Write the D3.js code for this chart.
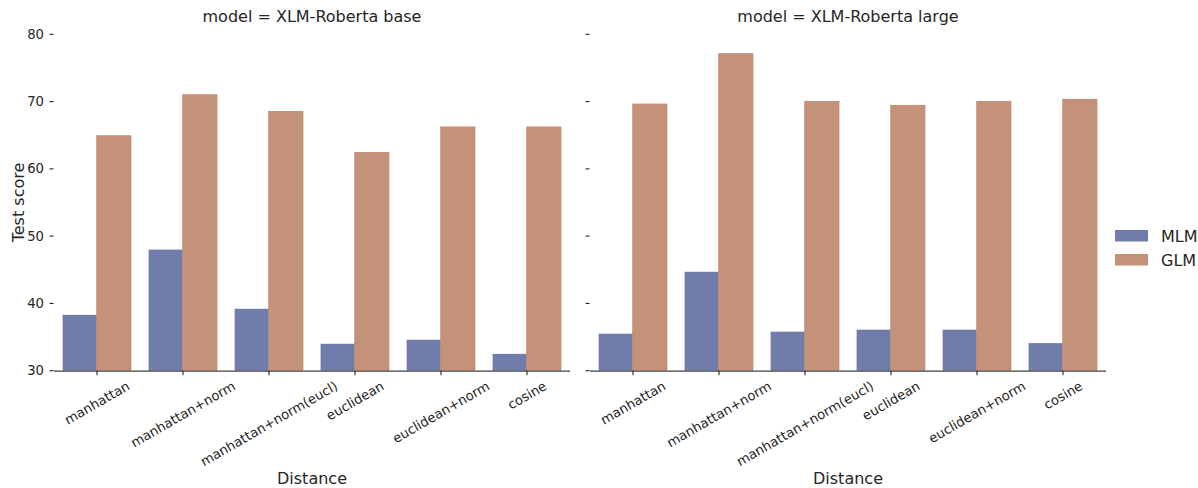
<!DOCTYPE html>
<html>
<head>
<meta charset="utf-8">
<script src="https://cdn.jsdelivr.net/npm/d3@7"></script>
<style>
  body { margin: 0; background: #fff; }
  text { font-family: "DejaVu Sans", sans-serif; fill: #262626; }
</style>
</head>
<body>
<svg id="chart" width="1198" height="488"></svg>
<script>
const categories = ["manhattan", "manhattan+norm", "manhattan+norm(eucl)", "euclidean", "euclidean+norm", "cosine"];
const series = ["MLM", "GLM"];
const models = ["XLM-Roberta base", "XLM-Roberta large"];
const baseMLM = [38.3, 48.0, 39.2, 34.0, 34.6, 32.5];
const baseGLM = [65.0, 71.1, 68.6, 62.5, 66.3, 66.3];
const largeMLM = [35.5, 44.7, 35.8, 36.1, 36.1, 34.1];
const largeGLM = [69.7, 77.2, 70.1, 69.5, 70.1, 70.4];
const yTicks = [30, 40, 50, 60, 70, 80];
const colors = ["#707ca9", "#c49179"];

const panelData = [
  { model: models[0], values: [baseMLM, baseGLM] },
  { model: models[1], values: [largeMLM, largeGLM] }
];

const svg = d3.select("#chart");
const plotTop = 34.3, plotBottom = 370.7;
const panelX = [[54, 570], [590, 1106]];
const y = d3.scaleLinear().domain([30, 80]).range([plotBottom, plotTop]);
const ink = "#262626";

panelData.forEach((p, pi) => {
  const [x0, x1] = panelX[pi];
  const x = d3.scaleBand().domain(categories).range([x0, x1]).padding(0);
  const step = x.bandwidth();
  const inner = d3.scaleBand().domain(series).range([0.1 * step, 0.9 * step]).padding(0);
  const g = svg.append("g");

  // bars
  series.forEach((s, si) => {
    g.selectAll(null).data(categories).enter().append("rect")
      .attr("x", c => x(c) + inner(s) - (si === 1 ? 0.8 : 0))
      .attr("y", (c, i) => y(p.values[si][i]))
      .attr("width", inner.bandwidth() + (si === 1 ? 0.8 : 0))
      .attr("height", (c, i) => plotBottom - y(p.values[si][i]))
      .attr("fill", colors[si]);
  });

  // bottom spine
  g.append("line").attr("x1", x0).attr("x2", x1).attr("y1", plotBottom + 0.5).attr("y2", plotBottom + 0.5)
    .attr("stroke", "#404040").attr("stroke-width", 1.25);

  // x ticks
  categories.forEach(c => {
    const cx = x(c) + step / 2;
    g.append("line").attr("x1", cx).attr("x2", cx).attr("y1", plotBottom).attr("y2", plotBottom + 4.5)
      .attr("stroke", ink).attr("stroke-width", 1.1);
    const t = g.append("text").text(c).attr("font-size", 13.2)
      .attr("text-anchor", "middle").attr("dy", "0.35em");
    const L = t.node().getComputedTextLength();
    const H = L * 0.5 + 15 * 0.866;
    t.attr("transform", `translate(${cx},${plotBottom + 7.5 + H / 2}) rotate(-30)`);
  });

  // y ticks
  yTicks.forEach(v => {
    g.append("line").attr("x1", x0 - 4.5).attr("x2", x0 - 0.5).attr("y1", y(v)).attr("y2", y(v))
      .attr("stroke", ink).attr("stroke-width", 1.1);
    if (pi === 0) {
      g.append("text").text(v).attr("font-size", 13.2).attr("text-anchor", "end")
        .attr("x", x0 - 10).attr("y", y(v)).attr("dy", "0.35em");
    }
  });

  // title
  g.append("text").text("model = " + p.model).attr("font-size", 16).attr("text-anchor", "middle")
    .attr("x", (x0 + x1) / 2).attr("y", 22);

  // x label
  g.append("text").text("Distance").attr("font-size", 16).attr("text-anchor", "middle")
    .attr("x", (x0 + x1) / 2).attr("y", 484);
});

// y label
svg.append("text").text("Test score").attr("font-size", 16).attr("text-anchor", "middle")
  .attr("transform", `translate(24,${(plotTop + plotBottom) / 2}) rotate(-90)`);

// legend
const leg = svg.append("g");
series.forEach((s, i) => {
  leg.append("rect").attr("x", 1115).attr("y", 230 + i * 24).attr("width", 33).attr("height", 11.5)
    .attr("fill", colors[i]);
  leg.append("text").text(s).attr("font-size", 16).attr("x", 1161).attr("y", 236 + i * 24)
    .attr("dy", "0.35em");
});
</script>
</body>
</html>
